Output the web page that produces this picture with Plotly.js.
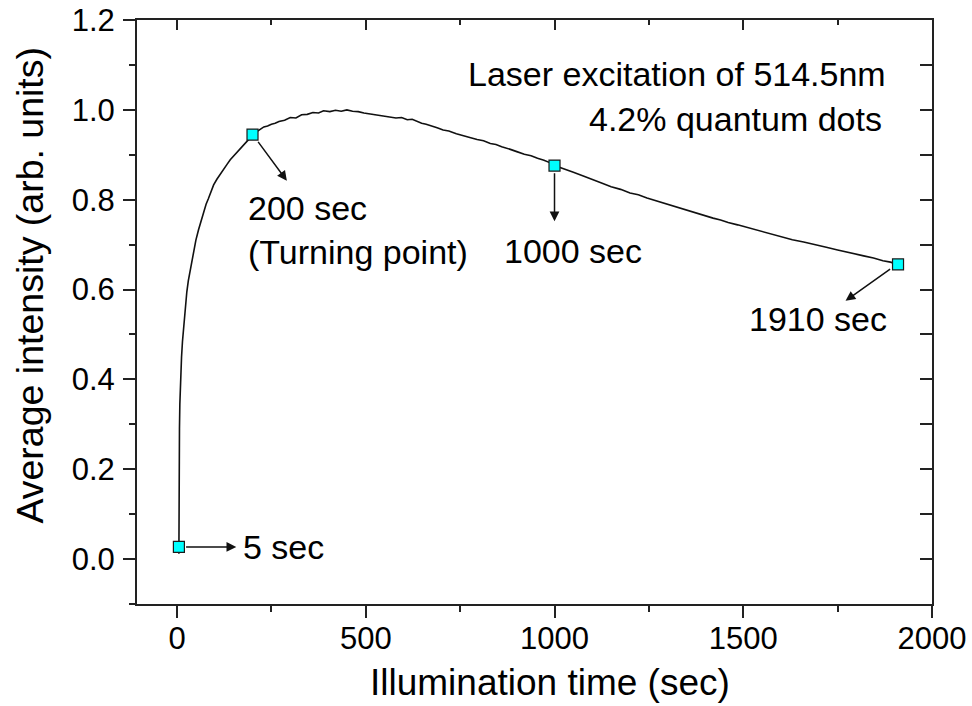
<!DOCTYPE html>
<html>
<head>
<meta charset="utf-8">
<script src="https://cdn.plot.ly/plotly-3.0.1.min.js"></script>
<style>html,body{margin:0;padding:0;background:#fff}#chart{width:972px;height:706px}</style>
</head>
<body>
<div id="chart"></div>
<script>
// Illumination time (sec) and average intensity (arb. units)
var timeSec = [5, 5, 5.5, 6.5, 7.5, 8.5, 10, 12, 14.5, 17.5, 21, 26, 30, 35, 40, 44, 50, 57, 63, 70, 77, 83, 90, 97, 106, 115, 124, 132, 141, 150, 159, 168, 176, 185, 193, 200,
  208, 215, 222, 230, 240, 250, 260, 270, 285, 300, 315, 330, 345, 360, 375, 388, 405, 420, 435, 450, 465, 480, 495, 510, 528, 547, 563, 580, 595, 610, 623, 636, 648, 660, 675, 689, 705, 720, 740, 760, 778, 795, 812, 830, 845, 860, 872, 883, 900, 920, 938, 955, 972, 989, 1000,
  1025, 1050, 1078, 1104, 1128, 1150, 1175, 1200, 1222, 1245, 1272, 1300, 1335, 1369, 1395, 1420, 1440, 1460, 1485, 1510, 1540, 1570, 1600, 1630, 1660, 1687, 1720, 1750, 1785, 1819, 1845, 1870, 1890, 1910];
var intensity = [0.012, 0.027, 0.21, 0.29, 0.345, 0.385, 0.42, 0.45, 0.485, 0.515, 0.55, 0.595, 0.62, 0.645, 0.668, 0.688, 0.71, 0.733, 0.752, 0.772, 0.79, 0.802, 0.82, 0.833, 0.846, 0.858, 0.87, 0.878, 0.889, 0.897, 0.905, 0.914, 0.921, 0.929, 0.937, 0.945,
  0.950, 0.954, 0.958, 0.962, 0.964, 0.968, 0.970, 0.974, 0.977, 0.983, 0.982, 0.989, 0.990, 0.994, 0.993, 0.998, 0.996, 0.999, 0.997, 1.000, 0.997, 0.996, 0.993, 0.991, 0.989, 0.986, 0.985, 0.982, 0.983, 0.978, 0.979, 0.974, 0.970, 0.968, 0.963, 0.960, 0.955, 0.953, 0.947, 0.943, 0.938, 0.934, 0.931, 0.925, 0.923, 0.918, 0.914, 0.912, 0.907, 0.901, 0.898, 0.892, 0.888, 0.882, 0.876,
  0.869, 0.861, 0.852, 0.843, 0.836, 0.829, 0.823, 0.815, 0.811, 0.804, 0.797, 0.789, 0.781, 0.771, 0.766, 0.759, 0.755, 0.749, 0.744, 0.738, 0.731, 0.724, 0.718, 0.711, 0.706, 0.700, 0.694, 0.688, 0.682, 0.675, 0.670, 0.664, 0.661, 0.656];

// Highlighted points
var markTime = [5, 200, 1000, 1910];
var markIntensity = [0.027, 0.945, 0.876, 0.656];

// Labels
var markLabels = ["5 sec", "200 sec", "1000 sec", "1910 sec"];
var labelTime = [170, 184, 862, 1511];
var labelIntensity = [0.027, 0.782, 0.686, 0.535];
var arrowTail = [[20, 0.027], [212, 0.932], [1000, 0.862], [1893, 0.648]];
var arrowHead = [[157, 0.027], [291, 0.842], [1000, 0.752], [1771, 0.575]];
var noteLines = ["Laser excitation of 514.5nm", "4.2% quantum dots"];
var xTitle = "Illumination time (sec)";
var yTitle = "Average intensity (arb. units)";

var FONT = 'Arial, "Liberation Sans", sans-serif';

var traces = [
  {x: timeSec, y: intensity, mode: 'lines', line: {color: '#111', width: 1.6}, hoverinfo: 'skip', showlegend: false},
  {x: markTime, y: markIntensity, mode: 'markers', marker: {symbol: 'square', size: 11, color: '#00FFFF', line: {color: '#1a1a1a', width: 1.2}}, showlegend: false},
  {x: [], y: [], xaxis: 'x2', yaxis: 'y2', showlegend: false}
];

var annotations = [];
for (var i = 0; i < markLabels.length; i++) {
  annotations.push({x: arrowHead[i][0], y: arrowHead[i][1], ax: arrowTail[i][0], ay: arrowTail[i][1],
    xref: 'x', yref: 'y', axref: 'x', ayref: 'y', text: '', showarrow: true,
    arrowhead: 2, arrowsize: 1.3, arrowwidth: 1.5, arrowcolor: '#111', standoff: 0, startstandoff: 0});
  annotations.push({x: labelTime[i], y: labelIntensity[i], xref: 'x', yref: 'y', text: markLabels[i],
    showarrow: false, xanchor: 'left', yanchor: 'middle', font: {family: FONT, size: 34, color: '#000'}});
}
annotations.push({x: 184, y: 0.684, xref: 'x', yref: 'y', text: '(Turning point)', showarrow: false,
  xanchor: 'left', yanchor: 'middle', font: {family: FONT, size: 34, color: '#000'}});
annotations.push({x: 1883, y: 1.079, xref: 'x', yref: 'y', text: noteLines[0], showarrow: false,
  xanchor: 'right', yanchor: 'middle', font: {family: FONT, size: 34, color: '#000'}});
annotations.push({x: 1872, y: 0.979, xref: 'x', yref: 'y', text: noteLines[1], showarrow: false,
  xanchor: 'right', yanchor: 'middle', font: {family: FONT, size: 34, color: '#000'}});
// axis titles
annotations.push({x: 0.52, y: -0.134, xref: 'paper', yref: 'paper', text: xTitle, showarrow: false,
  xanchor: 'center', yanchor: 'middle', font: {family: FONT, size: 37, color: '#000'}});
annotations.push({x: -0.134, y: 0.546, xref: 'paper', yref: 'paper', text: yTitle, showarrow: false, textangle: -90,
  xanchor: 'center', yanchor: 'middle', font: {family: FONT, size: 37.5, color: '#000'}});

var axCommon = {showgrid: false, zeroline: false, showline: true, linecolor: '#222', linewidth: 2,
  tickcolor: '#222', tickwidth: 2, tickfont: {family: FONT, size: 31, color: '#000'}};

var layout = {
  width: 972, height: 706,
  margin: {l: 137, r: 40, t: 20, b: 102},
  paper_bgcolor: '#fff', plot_bgcolor: '#fff',
  font: {family: FONT, color: '#000'},
  xaxis: Object.assign({}, axCommon, {range: [-106, 2000], tick0: 0, dtick: 500, ticks: 'outside', ticklen: 12,
    minor: {dtick: 250, tick0: 0, ticks: 'outside', ticklen: 6, tickwidth: 2, tickcolor: '#222'},
    ticklabelstandoff: -6}),
  yaxis: Object.assign({}, axCommon, {range: [-0.1, 1.2], tick0: 0, dtick: 0.2, tickformat: '.1f', ticks: 'outside', ticklen: 12,
    minor: {dtick: 0.1, tick0: 0, ticks: 'outside', ticklen: 6, tickwidth: 2, tickcolor: '#222'},
    ticklabelstandoff: 2}),
  xaxis2: Object.assign({}, axCommon, {overlaying: 'x', side: 'top', anchor: 'y', range: [-106, 2000], tick0: 0, dtick: 500,
    ticks: 'inside', ticklen: 10, showticklabels: false,
    minor: {dtick: 250, tick0: 0, ticks: 'inside', ticklen: 5, tickwidth: 2, tickcolor: '#222'}}),
  yaxis2: Object.assign({}, axCommon, {overlaying: 'y', side: 'right', anchor: 'x', range: [-0.1, 1.2], tick0: 0, dtick: 0.2,
    ticks: 'inside', ticklen: 12, showticklabels: false,
    minor: {dtick: 0.1, tick0: 0, ticks: 'inside', ticklen: 12, tickwidth: 2, tickcolor: '#222'}}),
  annotations: annotations
};

Plotly.newPlot('chart', traces, layout, {displayModeBar: false, staticPlot: true});
</script>
</body>
</html>
